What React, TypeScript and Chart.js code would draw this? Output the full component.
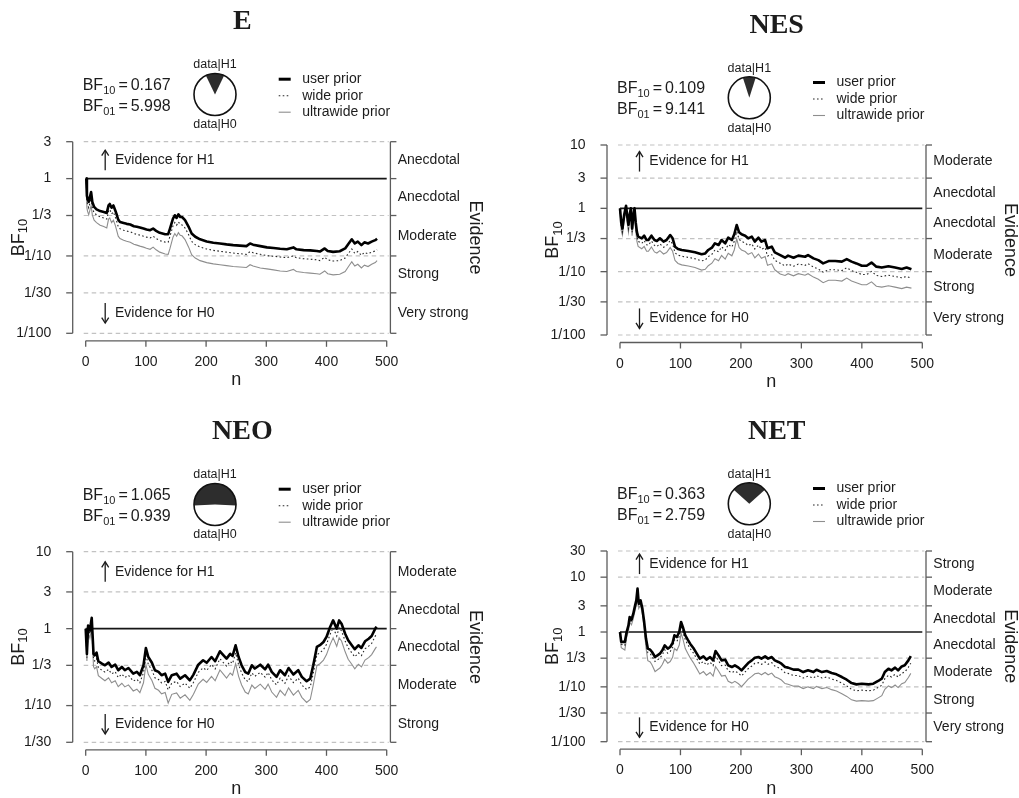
import React, { useEffect, useRef } from "react";
import { Chart, registerables } from "chart.js";

Chart.register(...registerables);

const SANS = '"Liberation Sans", Arial, Helvetica, sans-serif';
const SERIF = '"Liberation Serif", "Times New Roman", serif';
const INK = "#1c1c1c";
const AXIS = "#5c5c5c";

const xTicks = [0, 100, 200, 300, 400, 500];

// ---------- E ----------
const nE = [0, 1, 2, 3, 5, 9, 11, 14, 18, 24, 30, 35, 38, 40, 43, 46, 49, 51, 54, 57, 63, 68, 74, 80, 85, 90, 96, 101, 107, 112, 117, 123, 132, 137, 140, 145, 148, 151, 154, 157, 160, 165, 171, 176, 182, 190, 201, 212, 223, 234, 245, 256, 267, 273, 278, 290, 301, 312, 323, 334, 345, 350, 362, 373, 384, 389, 397, 402, 411, 422, 431, 436, 442, 447, 452, 458, 463, 469, 475, 481, 484];
const userE = [1, 1, 0.6, 0.55, 0.5, 0.67, 0.5, 0.43, 0.4, 0.38, 0.37, 0.36, 0.45, 0.47, 0.42, 0.45, 0.39, 0.352, 0.295, 0.275, 0.267, 0.26, 0.255, 0.242, 0.238, 0.233, 0.226, 0.22, 0.215, 0.226, 0.211, 0.199, 0.191, 0.191, 0.226, 0.304, 0.336, 0.31, 0.345, 0.32, 0.319, 0.29, 0.238, 0.195, 0.177, 0.164, 0.154, 0.148, 0.145, 0.141, 0.138, 0.136, 0.134, 0.145, 0.14, 0.134, 0.129, 0.127, 0.124, 0.122, 0.129, 0.122, 0.119, 0.118, 0.116, 0.114, 0.125, 0.116, 0.113, 0.115, 0.125, 0.142, 0.164, 0.145, 0.153, 0.138, 0.15, 0.145, 0.153, 0.16, 0.167];
const wideE = [1, 0.9, 0.52, 0.47, 0.42, 0.56, 0.42, 0.36, 0.34, 0.32, 0.31, 0.3, 0.38, 0.4, 0.35, 0.37, 0.32, 0.29, 0.24, 0.225, 0.215, 0.21, 0.205, 0.195, 0.19, 0.186, 0.18, 0.175, 0.171, 0.18, 0.168, 0.158, 0.151, 0.151, 0.18, 0.245, 0.27, 0.25, 0.275, 0.255, 0.252, 0.23, 0.188, 0.154, 0.14, 0.13, 0.123, 0.118, 0.115, 0.112, 0.109, 0.107, 0.105, 0.114, 0.11, 0.105, 0.101, 0.099, 0.097, 0.095, 0.1, 0.095, 0.092, 0.091, 0.089, 0.087, 0.096, 0.089, 0.086, 0.087, 0.094, 0.107, 0.123, 0.108, 0.114, 0.102, 0.111, 0.107, 0.112, 0.116, 0.12];
const ultraE = [1, 0.8, 0.42, 0.38, 0.34, 0.45, 0.34, 0.29, 0.27, 0.25, 0.24, 0.23, 0.3, 0.31, 0.27, 0.29, 0.25, 0.22, 0.18, 0.168, 0.16, 0.155, 0.15, 0.142, 0.138, 0.134, 0.13, 0.126, 0.122, 0.13, 0.12, 0.112, 0.106, 0.105, 0.125, 0.175, 0.195, 0.18, 0.2, 0.185, 0.182, 0.163, 0.13, 0.104, 0.094, 0.087, 0.082, 0.079, 0.077, 0.075, 0.073, 0.072, 0.071, 0.077, 0.074, 0.07, 0.068, 0.066, 0.064, 0.063, 0.067, 0.063, 0.061, 0.06, 0.059, 0.058, 0.064, 0.059, 0.057, 0.058, 0.063, 0.072, 0.084, 0.074, 0.078, 0.07, 0.076, 0.073, 0.078, 0.082, 0.087];
const ticksE = [1 / 100, 1 / 30, 1 / 10, 1 / 3, 1, 3];
const tickLabelsE = ["1/100", "1/30", "1/10", "1/3", "1", "3"];
const bandsE = ["Very strong", "Strong", "Moderate", "Anecdotal", "Anecdotal"];

// ---------- NES ----------
const nNES = [0, 2, 4, 7, 10, 12, 14, 16, 18, 20, 22, 24, 26, 28, 30, 36, 40, 44, 47, 52, 57, 61, 66, 72, 77, 83, 87, 91, 96, 102, 113, 124, 135, 141, 146, 152, 157, 163, 168, 174, 179, 185, 189, 193, 197, 201, 207, 212, 218, 223, 229, 234, 240, 244, 251, 256, 265, 273, 278, 287, 295, 306, 311, 320, 328, 336, 345, 356, 367, 375, 383, 391, 400, 408, 416, 424, 433, 444, 455, 466, 474, 482];
const userNES = [1, 0.6, 0.48, 0.8, 1.1, 0.75, 0.55, 0.8, 1.0, 0.48, 0.75, 1.0, 0.6, 0.42, 0.357, 0.336, 0.37, 0.316, 0.316, 0.37, 0.316, 0.305, 0.336, 0.298, 0.316, 0.379, 0.336, 0.248, 0.228, 0.22, 0.212, 0.202, 0.188, 0.194, 0.22, 0.239, 0.28, 0.264, 0.316, 0.28, 0.344, 0.316, 0.389, 0.546, 0.418, 0.389, 0.37, 0.336, 0.357, 0.298, 0.344, 0.298, 0.316, 0.234, 0.248, 0.202, 0.183, 0.166, 0.179, 0.166, 0.179, 0.172, 0.183, 0.162, 0.152, 0.135, 0.147, 0.147, 0.144, 0.158, 0.144, 0.135, 0.124, 0.124, 0.139, 0.12, 0.116, 0.122, 0.116, 0.11, 0.116, 0.109];
const wideNES = [1, 0.52, 0.42, 0.72, 1.0, 0.66, 0.48, 0.72, 0.92, 0.42, 0.66, 0.9, 0.52, 0.36, 0.3, 0.28, 0.31, 0.265, 0.262, 0.305, 0.26, 0.25, 0.275, 0.243, 0.258, 0.31, 0.275, 0.198, 0.182, 0.175, 0.168, 0.16, 0.148, 0.152, 0.173, 0.188, 0.22, 0.206, 0.247, 0.218, 0.268, 0.245, 0.302, 0.43, 0.325, 0.3, 0.285, 0.258, 0.275, 0.228, 0.262, 0.226, 0.24, 0.176, 0.186, 0.151, 0.136, 0.123, 0.132, 0.122, 0.132, 0.126, 0.134, 0.118, 0.11, 0.098, 0.107, 0.107, 0.104, 0.115, 0.104, 0.098, 0.09, 0.09, 0.101, 0.087, 0.084, 0.088, 0.084, 0.08, 0.084, 0.079];
const ultraNES = [1, 0.45, 0.38, 0.65, 0.92, 0.58, 0.42, 0.65, 0.85, 0.37, 0.58, 0.82, 0.45, 0.3, 0.25, 0.23, 0.25, 0.21, 0.21, 0.245, 0.205, 0.197, 0.215, 0.19, 0.2, 0.24, 0.21, 0.15, 0.135, 0.128, 0.123, 0.116, 0.106, 0.109, 0.124, 0.136, 0.16, 0.149, 0.18, 0.158, 0.195, 0.178, 0.22, 0.33, 0.24, 0.22, 0.208, 0.188, 0.2, 0.165, 0.19, 0.163, 0.173, 0.126, 0.133, 0.107, 0.092, 0.087, 0.093, 0.086, 0.093, 0.088, 0.093, 0.082, 0.076, 0.067, 0.073, 0.073, 0.071, 0.079, 0.071, 0.067, 0.062, 0.062, 0.069, 0.059, 0.057, 0.06, 0.057, 0.054, 0.057, 0.055];
const ticksNES = [1 / 100, 1 / 30, 1 / 10, 1 / 3, 1, 3, 10];
const tickLabelsNES = ["1/100", "1/30", "1/10", "1/3", "1", "3", "10"];
const bandsNES = ["Very strong", "Strong", "Moderate", "Anecdotal", "Anecdotal", "Moderate"];

// ---------- NEO ----------
const nNEO = [0, 2, 4, 7, 10, 13, 15, 18, 21, 27, 32, 38, 43, 49, 54, 60, 65, 71, 79, 85, 90, 96, 100, 104, 110, 115, 121, 126, 132, 137, 143, 151, 157, 165, 173, 179, 187, 195, 201, 209, 215, 223, 229, 234, 240, 244, 249, 254, 259, 265, 270, 276, 281, 290, 298, 303, 309, 317, 323, 331, 337, 345, 353, 359, 367, 373, 378, 384, 389, 395, 400, 406, 411, 417, 421, 425, 431, 436, 442, 447, 453, 458, 464, 470, 475, 481, 483];
const userNEO = [1, 0.47, 1.1, 0.95, 1.38, 0.47, 0.45, 0.488, 0.377, 0.351, 0.334, 0.362, 0.318, 0.34, 0.288, 0.318, 0.288, 0.308, 0.26, 0.274, 0.248, 0.334, 0.561, 0.428, 0.36, 0.288, 0.274, 0.248, 0.26, 0.203, 0.248, 0.26, 0.224, 0.248, 0.213, 0.253, 0.34, 0.388, 0.36, 0.428, 0.377, 0.508, 0.45, 0.408, 0.47, 0.442, 0.608, 0.428, 0.334, 0.273, 0.26, 0.334, 0.303, 0.34, 0.296, 0.34, 0.274, 0.236, 0.288, 0.248, 0.308, 0.253, 0.288, 0.236, 0.207, 0.224, 0.334, 0.578, 0.61, 0.67, 0.78, 1.05, 1.28, 1.0, 1.28, 1.16, 0.86, 0.705, 0.608, 0.54, 0.608, 0.561, 0.685, 0.74, 0.803, 1.0, 1.065];
const wideNEO = [1, 0.42, 0.98, 0.85, 1.2, 0.4, 0.38, 0.41, 0.31, 0.288, 0.272, 0.295, 0.258, 0.275, 0.232, 0.257, 0.232, 0.248, 0.208, 0.22, 0.198, 0.268, 0.45, 0.343, 0.288, 0.23, 0.218, 0.197, 0.206, 0.16, 0.196, 0.206, 0.177, 0.196, 0.168, 0.2, 0.27, 0.31, 0.287, 0.342, 0.3, 0.406, 0.36, 0.326, 0.375, 0.352, 0.485, 0.34, 0.265, 0.216, 0.205, 0.265, 0.24, 0.27, 0.234, 0.269, 0.216, 0.186, 0.227, 0.195, 0.243, 0.199, 0.227, 0.185, 0.162, 0.175, 0.262, 0.458, 0.485, 0.535, 0.625, 0.845, 1.03, 0.8, 1.03, 0.93, 0.69, 0.563, 0.485, 0.43, 0.485, 0.447, 0.548, 0.592, 0.643, 0.8, 0.85];
const ultraNEO = [1, 0.38, 0.9, 0.75, 1.05, 0.32, 0.3, 0.32, 0.245, 0.225, 0.21, 0.23, 0.198, 0.21, 0.176, 0.195, 0.175, 0.186, 0.155, 0.163, 0.147, 0.198, 0.34, 0.255, 0.212, 0.168, 0.158, 0.142, 0.148, 0.108, 0.14, 0.146, 0.125, 0.138, 0.117, 0.14, 0.19, 0.22, 0.2, 0.24, 0.21, 0.29, 0.255, 0.228, 0.265, 0.248, 0.35, 0.24, 0.185, 0.15, 0.142, 0.185, 0.167, 0.19, 0.163, 0.19, 0.15, 0.128, 0.158, 0.135, 0.17, 0.137, 0.158, 0.128, 0.11, 0.12, 0.185, 0.33, 0.35, 0.39, 0.46, 0.62, 0.76, 0.59, 0.76, 0.69, 0.5, 0.4, 0.345, 0.3, 0.345, 0.318, 0.39, 0.42, 0.46, 0.55, 0.58];
const ticksNEO = [1 / 30, 1 / 10, 1 / 3, 1, 3, 10];
const tickLabelsNEO = ["1/30", "1/10", "1/3", "1", "3", "10"];
const bandsNEO = ["Strong", "Moderate", "Anecdotal", "Anecdotal", "Moderate"];

// ---------- NET ----------
const nNET = [0, 2, 8, 11, 14, 16, 19, 22, 25, 27, 29, 31, 34, 37, 40, 43, 46, 50, 53, 58, 62, 66, 70, 74, 79, 83, 87, 90, 94, 98, 101, 104, 108, 112, 116, 121, 127, 132, 138, 143, 149, 154, 158, 163, 168, 174, 179, 185, 190, 196, 201, 207, 212, 218, 223, 229, 234, 240, 245, 251, 256, 262, 267, 273, 278, 287, 295, 303, 311, 320, 325, 334, 342, 350, 358, 367, 375, 383, 391, 400, 411, 419, 427, 433, 438, 444, 449, 455, 460, 466, 471, 477, 481];
const userNET = [1, 0.66, 0.66, 1.0, 1.32, 1.88, 1.68, 2.16, 3.06, 3.78, 6.2, 3.28, 3.78, 2.67, 1.52, 0.76, 0.497, 0.476, 0.432, 0.35, 0.375, 0.403, 0.463, 0.571, 0.497, 0.533, 0.63, 0.87, 0.81, 1.0, 1.52, 1.23, 0.87, 0.725, 0.613, 0.518, 0.403, 0.327, 0.36, 0.313, 0.35, 0.304, 0.45, 0.375, 0.304, 0.313, 0.247, 0.23, 0.247, 0.224, 0.2, 0.237, 0.272, 0.304, 0.34, 0.35, 0.327, 0.36, 0.327, 0.35, 0.304, 0.284, 0.264, 0.23, 0.224, 0.206, 0.206, 0.186, 0.2, 0.186, 0.205, 0.186, 0.194, 0.179, 0.169, 0.151, 0.135, 0.117, 0.111, 0.114, 0.111, 0.114, 0.128, 0.141, 0.186, 0.214, 0.2, 0.224, 0.2, 0.236, 0.247, 0.304, 0.363];
const wideNET = [1, 0.6, 0.57, 0.9, 1.2, 1.7, 1.52, 1.95, 2.8, 3.45, 5.4, 3.0, 3.45, 2.4, 1.35, 0.66, 0.42, 0.4, 0.36, 0.29, 0.31, 0.335, 0.385, 0.475, 0.41, 0.44, 0.52, 0.72, 0.67, 0.83, 1.27, 1.02, 0.72, 0.595, 0.5, 0.42, 0.325, 0.262, 0.29, 0.25, 0.28, 0.243, 0.36, 0.3, 0.243, 0.25, 0.195, 0.182, 0.195, 0.177, 0.158, 0.187, 0.215, 0.24, 0.268, 0.276, 0.258, 0.284, 0.258, 0.276, 0.24, 0.224, 0.208, 0.181, 0.176, 0.161, 0.161, 0.145, 0.156, 0.145, 0.16, 0.145, 0.151, 0.139, 0.131, 0.117, 0.104, 0.09, 0.085, 0.087, 0.085, 0.087, 0.098, 0.107, 0.141, 0.162, 0.151, 0.169, 0.151, 0.178, 0.186, 0.228, 0.27];
const ultraNET = [1, 0.52, 0.47, 0.8, 1.05, 1.5, 1.35, 1.75, 2.5, 3.1, 4.9, 2.7, 3.1, 2.1, 1.15, 0.52, 0.3, 0.285, 0.25, 0.19, 0.205, 0.22, 0.255, 0.32, 0.27, 0.29, 0.345, 0.5, 0.46, 0.58, 0.95, 0.75, 0.5, 0.41, 0.34, 0.28, 0.215, 0.172, 0.19, 0.163, 0.183, 0.157, 0.235, 0.195, 0.157, 0.162, 0.126, 0.117, 0.126, 0.114, 0.101, 0.12, 0.138, 0.155, 0.173, 0.178, 0.166, 0.183, 0.166, 0.178, 0.153, 0.143, 0.133, 0.115, 0.112, 0.103, 0.103, 0.093, 0.1, 0.093, 0.102, 0.093, 0.097, 0.089, 0.084, 0.075, 0.067, 0.058, 0.055, 0.056, 0.055, 0.056, 0.063, 0.069, 0.09, 0.104, 0.097, 0.108, 0.097, 0.114, 0.12, 0.148, 0.176];
const ticksNET = [1 / 100, 1 / 30, 1 / 10, 1 / 3, 1, 3, 10, 30];
const tickLabelsNET = ["1/100", "1/30", "1/10", "1/3", "1", "3", "10", "30"];
const bandsNET = ["Very strong", "Strong", "Moderate", "Anecdotal", "Anecdotal", "Moderate", "Strong"];

type Area = { l: number; r: number; t: number; b: number };
type Spec = {
  title: string;
  bf10: string;
  bf01: string;
  n: number[];
  user: number[];
  wide: number[];
  ultra: number[];
  ticks: number[];
  tickLabels: string[];
  bands: string[];
  x: number;
  y: number;
  w: number;
  h: number;
  area: Area;
};

const PANELS: Spec[] = [
  { title: "E", bf10: "0.167", bf01: "5.998", n: nE, user: userE, wide: wideE, ultra: ultraE, ticks: ticksE, tickLabels: tickLabelsE, bands: bandsE, x: 0, y: 0, w: 510, h: 400, area: { l: 85.7, r: 386.7, t: 141.7, b: 333.3 } },
  { title: "NES", bf10: "0.109", bf01: "9.141", n: nNES, user: userNES, wide: wideNES, ultra: ultraNES, ticks: ticksNES, tickLabels: tickLabelsNES, bands: bandsNES, x: 510, y: 0, w: 509, h: 400, area: { l: 110, r: 412.3, t: 145, b: 335 } },
  { title: "NEO", bf10: "1.065", bf01: "0.939", n: nNEO, user: userNEO, wide: wideNEO, ultra: ultraNEO, ticks: ticksNEO, tickLabels: tickLabelsNEO, bands: bandsNEO, x: 0, y: 400, w: 510, h: 398, area: { l: 85.7, r: 386.7, t: 151.7, b: 342.3 } },
  { title: "NET", bf10: "0.363", bf01: "2.759", n: nNET, user: userNET, wide: wideNET, ultra: ultraNET, ticks: ticksNET, tickLabels: tickLabelsNET, bands: bandsNET, x: 510, y: 400, w: 509, h: 398, area: { l: 110, r: 412.3, t: 151, b: 341.7 } },
];

const X_AXIS_H = 50;

function seg(ctx: CanvasRenderingContext2D, x1: number, y1: number, x2: number, y2: number) {
  ctx.beginPath();
  ctx.moveTo(x1, y1);
  ctx.lineTo(x2, y2);
  ctx.stroke();
}

// "BF" followed by a subscript; returns the total advance
function subText(ctx: CanvasRenderingContext2D, x: number, y: number, main: string, sub: string, size: number, subSize: number, drop: number, draw = true) {
  ctx.font = `${size}px ${SANS}`;
  const w1 = ctx.measureText(main).width;
  if (draw) ctx.fillText(main, x, y);
  ctx.font = `${subSize}px ${SANS}`;
  const w2 = ctx.measureText(sub).width;
  if (draw) ctx.fillText(sub, x + w1, y + drop);
  return w1 + w2;
}

function arrow(ctx: CanvasRenderingContext2D, x: number, y: number, up: boolean) {
  const tip = up ? y - 10 : y + 10;
  const tail = up ? y + 10 : y - 10;
  const d = up ? 5.5 : -5.5;
  seg(ctx, x, tail, x, tip);
  ctx.beginPath();
  ctx.moveTo(x - 3.5, tip + d);
  ctx.lineTo(x, tip);
  ctx.lineTo(x + 3.5, tip + d);
  ctx.stroke();
}

function decorPlugin(spec: Spec) {
  return {
    id: "bfDecor",
    beforeDatasetsDraw(chart: any) {
      const ctx: CanvasRenderingContext2D = chart.ctx;
      const ys = chart.scales.y;
      const { left, right } = chart.chartArea;
      ctx.save();
      ctx.strokeStyle = "#c2c2c2";
      ctx.lineWidth = 1.2;
      ctx.setLineDash([4.5, 3.5]);
      spec.ticks.forEach((v) => {
        if (Math.abs(v - 1) < 1e-9) return;
        const py = ys.getPixelForValue(v);
        seg(ctx, left - 2, py, right + 2, py);
      });
      ctx.setLineDash([]);
      ctx.strokeStyle = "#151515";
      ctx.lineWidth = 1.6;
      const p1 = ys.getPixelForValue(1);
      seg(ctx, left, p1, right, p1);
      ctx.restore();
    },
    afterDraw(chart: any) {
      const ctx: CanvasRenderingContext2D = chart.ctx;
      const xs = chart.scales.x;
      const ys = chart.scales.y;
      const { left: l, right: r, top: t, bottom: b } = chart.chartArea;
      const ticks = spec.ticks;
      const nt = ticks.length;
      const yTop = ys.getPixelForValue(ticks[nt - 1]);
      const yBot = ys.getPixelForValue(ticks[0]);

      ctx.save();
      // axes
      ctx.strokeStyle = AXIS;
      ctx.lineWidth = 1.3;
      const ax = l - 13;
      seg(ctx, ax, yTop, ax, yBot);
      const rx = r + 3.7;
      seg(ctx, rx, yTop, rx, yBot);
      ticks.forEach((v) => {
        const py = ys.getPixelForValue(v);
        seg(ctx, ax - 6.5, py, ax, py);
        seg(ctx, rx, py, rx + 6, py);
      });
      const by = b + 7.5;
      seg(ctx, xs.getPixelForValue(xTicks[0]), by, xs.getPixelForValue(xTicks[xTicks.length - 1]), by);
      xTicks.forEach((v) => {
        const px = xs.getPixelForValue(v);
        seg(ctx, px, by, px, by + 6);
      });

      ctx.fillStyle = INK;
      // evidence categories on the right
      ctx.font = `14px ${SANS}`;
      ctx.textAlign = "left";
      ctx.textBaseline = "middle";
      spec.bands.forEach((label, i) => {
        const py = ys.getPixelForValue(Math.sqrt(ticks[i] * ticks[i + 1]));
        ctx.fillText(label, r + 11, py);
      });

      // direction hints
      ctx.strokeStyle = INK;
      ctx.lineWidth = 1.3;
      const yUp = ys.getPixelForValue(Math.sqrt(ticks[nt - 1] * ticks[nt - 2]));
      const yDn = ys.getPixelForValue(Math.sqrt(ticks[0] * ticks[1]));
      arrow(ctx, l + 19.5, yUp, true);
      arrow(ctx, l + 19.5, yDn, false);
      ctx.fillText("Evidence for H1", l + 29.3, yUp);
      ctx.fillText("Evidence for H0", l + 29.3, yDn);

      // axis titles
      ctx.font = `18px ${SANS}`;
      ctx.textAlign = "center";
      ctx.fillText("n", xs.getPixelForValue(250), b + 47);
      ctx.save();
      ctx.translate(r + 88, (t + b) / 2);
      ctx.rotate(Math.PI / 2);
      ctx.fillText("Evidence", 0, 0);
      ctx.restore();
      ctx.save();
      ctx.translate(l - 67, (t + b) / 2);
      ctx.rotate(-Math.PI / 2);
      ctx.textAlign = "left";
      const wLab = subText(ctx, 0, 0, "BF", "10", 18, 13, 5, false);
      subText(ctx, -wLab / 2, 0, "BF", "10", 18, 13, 5);
      ctx.restore();

      // panel title
      ctx.font = `bold 28px ${SERIF}`;
      ctx.textAlign = "center";
      ctx.textBaseline = "alphabetic";
      ctx.fillText(spec.title, l + 156.7, t - 112.5);

      // Bayes factor read-out
      ctx.textAlign = "left";
      const bfLine = (yb: number, sub: string, val: string) => {
        let x = l - 3;
        x += subText(ctx, x, yb, "BF", sub, 16, 11, 4);
        ctx.font = `16px ${SANS}`;
        x += 3;
        ctx.fillText("=", x, yb);
        x += ctx.measureText("=").width + 3;
        ctx.fillText(val, x, yb);
      };
      bfLine(t - 52, "10", spec.bf10);
      bfLine(t - 30.6, "01", spec.bf01);

      // probability wheel
      const bf = parseFloat(spec.bf10);
      const p = bf / (1 + bf);
      const cx = l + 129.3;
      const cy = t - 47.2;
      const rad = 21;
      ctx.beginPath();
      ctx.arc(cx, cy, rad, 0, Math.PI * 2);
      ctx.fillStyle = "#ffffff";
      ctx.fill();
      ctx.beginPath();
      ctx.moveTo(cx, cy);
      ctx.arc(cx, cy, rad, -Math.PI / 2 - Math.PI * p, -Math.PI / 2 + Math.PI * p);
      ctx.closePath();
      ctx.fillStyle = "#2d2d2d";
      ctx.fill();
      ctx.beginPath();
      ctx.arc(cx, cy, rad, 0, Math.PI * 2);
      ctx.strokeStyle = "#111111";
      ctx.lineWidth = 1.6;
      ctx.stroke();
      ctx.fillStyle = INK;
      ctx.font = `12.5px ${SANS}`;
      ctx.textAlign = "center";
      ctx.fillText("data|H1", cx, t - 73.5);
      ctx.fillText("data|H0", cx, t - 13.5);

      // legend
      const rows = [t - 62.5, t - 46, t - 29.5];
      ctx.textAlign = "left";
      ctx.textBaseline = "middle";
      ctx.font = `14px ${SANS}`;
      chart.data.datasets.forEach((ds: any, i: number) => {
        const ry = rows[i];
        ctx.strokeStyle = ds.borderColor;
        ctx.lineWidth = i === 0 ? 3 : 1.1;
        ctx.setLineDash(ds.borderDash || []);
        seg(ctx, l + 193, ry, l + 205, ry);
        ctx.setLineDash([]);
        ctx.fillText(ds.label, l + 216.5, ry);
      });
      ctx.restore();
    },
  };
}

function buildConfig(spec: Spec): any {
  const pts = (ys: number[]) => spec.n.map((x, i) => ({ x, y: ys[i] }));
  const { l, r, t, b } = spec.area;
  return {
    type: "line",
    data: {
      datasets: [
        { label: "user prior", data: pts(spec.user), borderColor: "#000000", borderWidth: 2.6, pointRadius: 0, tension: 0, borderJoinStyle: "round", clip: false },
        { label: "wide prior", data: pts(spec.wide), borderColor: "#262626", borderWidth: 1.1, borderDash: [1.6, 2.4], pointRadius: 0, tension: 0, clip: false },
        { label: "ultrawide prior", data: pts(spec.ultra), borderColor: "#8e8e8e", borderWidth: 1.1, pointRadius: 0, tension: 0, clip: false },
      ],
    },
    options: {
      responsive: false,
      animation: false,
      events: [],
      devicePixelRatio: 1,
      layout: { padding: { left: 0, top: t, right: spec.w - r, bottom: spec.h - b - X_AXIS_H } },
      plugins: { legend: { display: false }, tooltip: { enabled: false }, title: { display: false } },
      scales: {
        x: {
          type: "linear",
          position: "bottom",
          min: 0,
          max: 500,
          afterFit: (s: any) => {
            s.height = X_AXIS_H;
          },
          afterBuildTicks: (s: any) => {
            s.ticks = xTicks.map((v) => ({ value: v }));
          },
          grid: { display: false },
          border: { display: false },
          ticks: { autoSkip: false, maxRotation: 0, padding: 12.5, color: INK, font: { family: SANS, size: 14 } },
        },
        y: {
          type: "logarithmic",
          position: "left",
          min: spec.ticks[0],
          max: spec.ticks[spec.ticks.length - 1],
          afterFit: (s: any) => {
            s.width = l;
          },
          afterBuildTicks: (s: any) => {
            s.ticks = spec.ticks.map((v) => ({ value: v }));
          },
          grid: { display: false },
          border: { display: false },
          ticks: {
            autoSkip: false,
            padding: 26.5,
            color: INK,
            font: { family: SANS, size: 14 },
            callback: (_v: any, i: number) => spec.tickLabels[i],
          },
        },
      },
    },
    plugins: [decorPlugin(spec)],
  };
}

function Panel({ spec }: { spec: Spec }) {
  const ref = useRef<HTMLCanvasElement>(null);
  useEffect(() => {
    if (!ref.current) return;
    const chart = new Chart(ref.current, buildConfig(spec));
    return () => chart.destroy();
  }, [spec]);
  return (
    <canvas
      ref={ref}
      width={spec.w}
      height={spec.h}
      style={{ position: "absolute", left: spec.x, top: spec.y, width: spec.w, height: spec.h }}
    />
  );
}

export default function App() {
  return (
    <div style={{ position: "absolute", left: 0, top: 0, width: 1019, height: 798, overflow: "hidden", background: "#ffffff" }}>
      {PANELS.map((p) => (
        <Panel key={p.title} spec={p} />
      ))}
    </div>
  );
}
